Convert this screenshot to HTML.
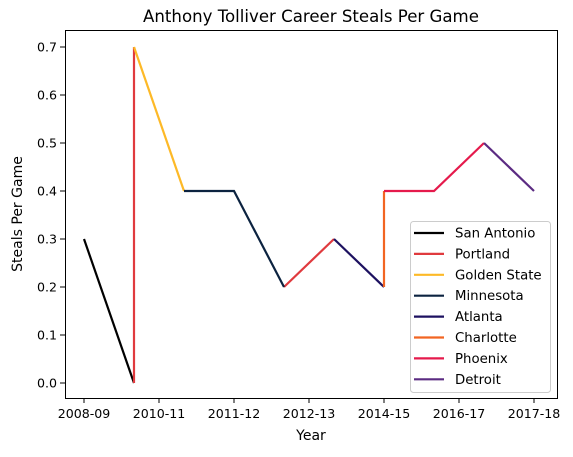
<!DOCTYPE html>
<html><head><meta charset="utf-8"><style>
body{margin:0;background:#fff;font-family:"DejaVu Sans","Liberation Sans",sans-serif;}
</style></head><body>
<svg id="chart" width="573" height="453" xmlns="http://www.w3.org/2000/svg" font-family="DejaVu Sans, Liberation Sans, sans-serif">
<text x="311" y="22" font-size="16.6" text-anchor="middle">Anthony Tolliver Career Steals Per Game</text>
<text x="311" y="440" font-size="14" text-anchor="middle">Year</text>
<text x="22" y="214" font-size="14" text-anchor="middle" transform="rotate(-90 22 214)">Steals Per Game</text>
<g id="ticks"></g>
<g id="series"></g>
<rect x="65.5" y="30.5" width="492" height="368" fill="none" stroke="#000" stroke-width="1"/>
<g id="legend"></g>
</svg>
<script>
const xTickIdx=[0,3,6,9,12,15,18];
const xTickLabels=["2008-09","2010-11","2011-12","2012-13","2014-15","2016-17","2017-18"];
const yTicks=[0.0,0.1,0.2,0.3,0.4,0.5,0.6,0.7];
const teams=["San Antonio","Portland","Golden State","Minnesota","Atlanta","Charlotte","Phoenix","Detroit"];
const colors=["#000000","#e03a3e","#fdb927","#0c2340","#1d1160","#f26522","#e51a4c","#5b2b82"];
const sanAntonioX=[0,2], sanAntonioY=[0.3,0.0];
const portland1X=[2,2], portland1Y=[0.0,0.7];
const portland2X=[8,10], portland2Y=[0.2,0.3];
const goldenStateX=[2,4], goldenStateY=[0.7,0.4];
const minnesotaX=[4,6,8], minnesotaY=[0.4,0.4,0.2];
const atlantaX=[10,12], atlantaY=[0.3,0.2];
const charlotteX=[12,12], charlotteY=[0.2,0.4];
const phoenixX=[12,14,16], phoenixY=[0.4,0.4,0.5];
const detroitX=[16,18], detroitY=[0.5,0.4];
const seriesTeam=[0,1,1,2,3,4,5,6,7];
const seriesX=[sanAntonioX,portland1X,portland2X,goldenStateX,minnesotaX,atlantaX,charlotteX,phoenixX,detroitX];
const seriesY=[sanAntonioY,portland1Y,portland2Y,goldenStateY,minnesotaY,atlantaY,charlotteY,phoenixY,detroitY];
const NS="http://www.w3.org/2000/svg";
const xs=i=>84+i*25;
const ys=v=>383-v*480;
const tg=document.getElementById('ticks');
function mk(tag,attrs,parent){const e=document.createElementNS(NS,tag);for(const k in attrs)e.setAttribute(k,attrs[k]);parent.appendChild(e);return e;}
xTickIdx.forEach((idx,i)=>{
  const l=mk('line',{x1:xs(idx),x2:xs(idx),y1:398,y2:403,stroke:'#000'},tg);
  
  
  const t=mk('text',{x:xs(idx),y:418,'font-size':12.6,'text-anchor':'middle'},tg);t.textContent=xTickLabels[i];
  
  
});
yTicks.forEach(v=>{
  const l=mk('line',{x1:60,x2:65,y1:ys(v),y2:ys(v),stroke:'#000'},tg);
  
  
  const t=mk('text',{x:57,y:ys(v)+4.5,'font-size':12.6,'text-anchor':'end'},tg);t.textContent=v.toFixed(1);
  
  
});
const sg=document.getElementById('series');
seriesX.forEach((sx,i)=>{
  const c=colors[seriesTeam[i]];
  const pts=sx.map((x,j)=>xs(x)+','+ys(seriesY[i][j])).join(' ');
  const p=mk('polyline',{points:pts,fill:'none',stroke:c,'stroke-width':2.2},sg);
  
  
});
const lg=document.getElementById('legend');
mk('rect',{x:410.5,y:221.5,width:140,height:171,rx:3,fill:'#fff','fill-opacity':0.8,stroke:'#ccc'},lg);
teams.forEach((tm,i)=>{
  const y=233+i*20.9;
  const g=mk('g',{},lg);
  
  
  mk('line',{x1:414,x2:444,y1:y,y2:y,stroke:colors[i],'stroke-width':2.2},g);
  const t=mk('text',{x:455,y:y+4.5,'font-size':13.3},g);t.textContent=tm;
});
</script>
</body></html>
